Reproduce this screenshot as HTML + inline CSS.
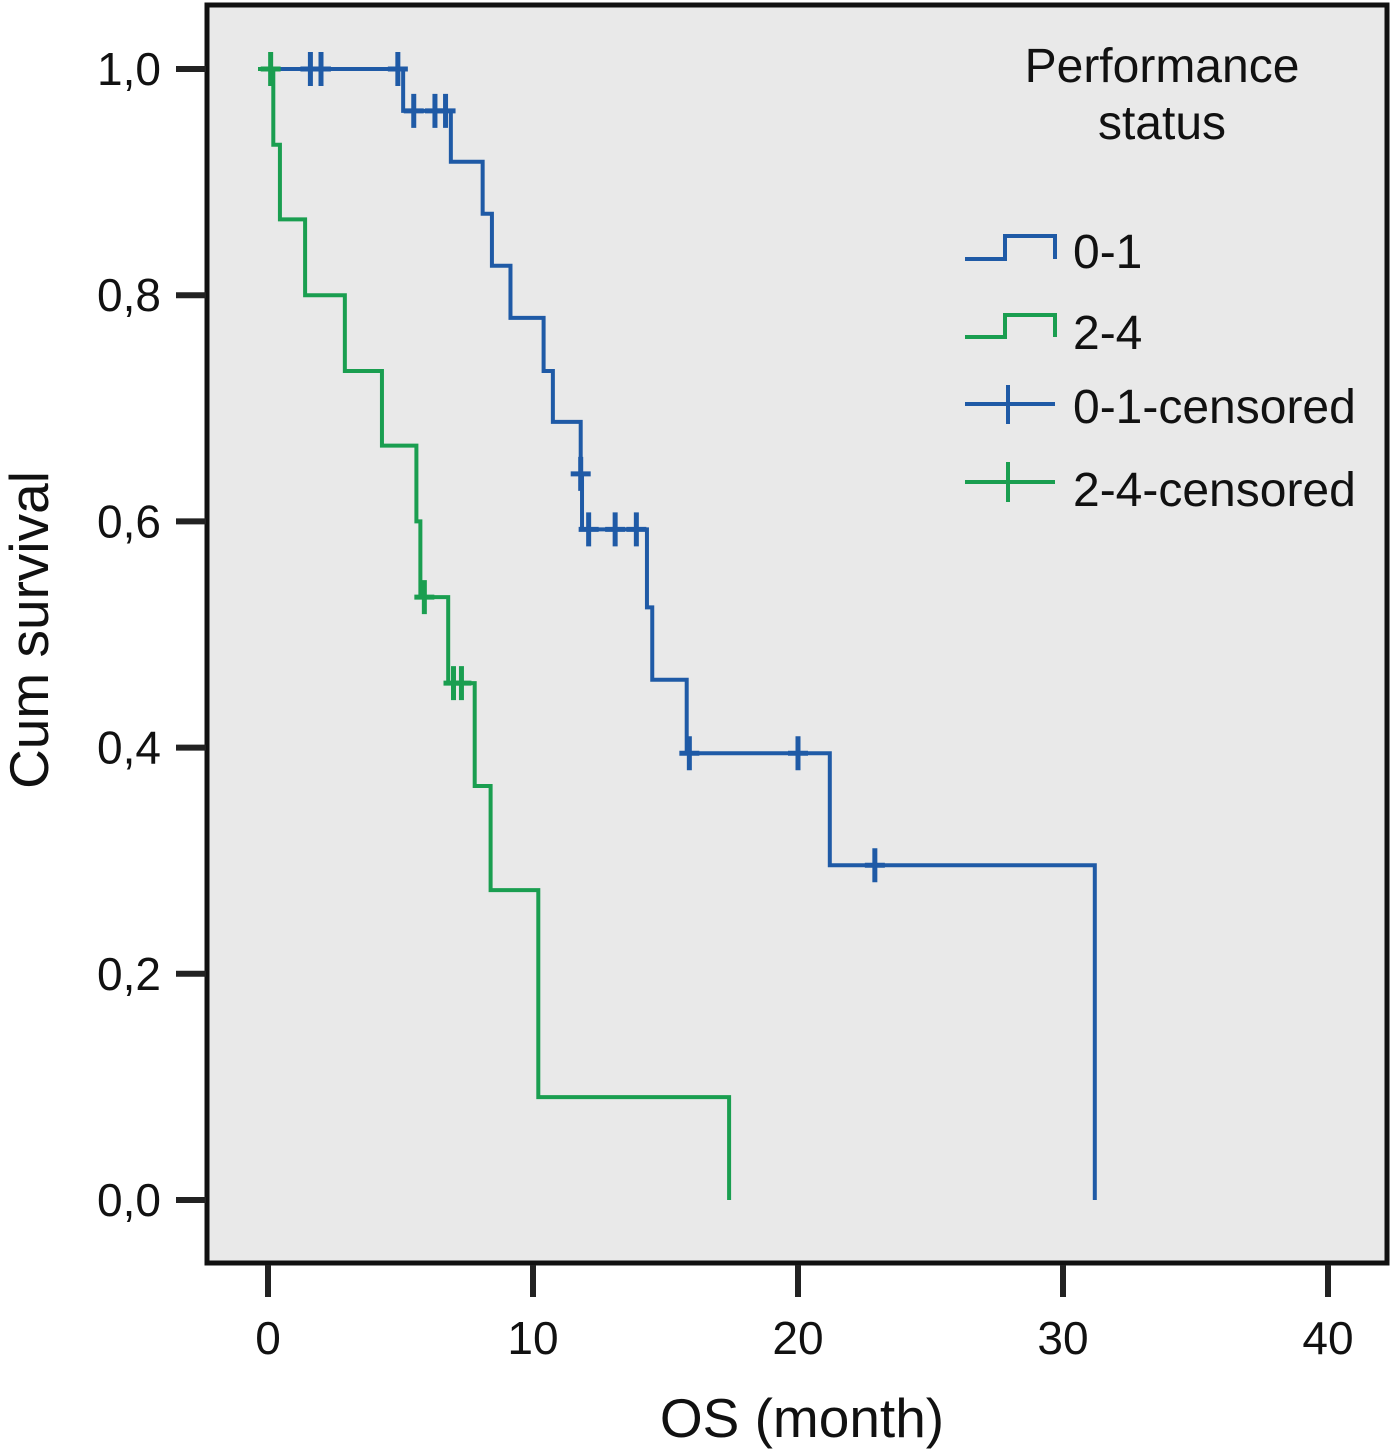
<!DOCTYPE html>
<html><head><meta charset="utf-8"><style>
html,body{margin:0;padding:0;background:#fff;}
svg{display:block;font-family:"Liberation Sans",Arial,sans-serif;}
</style></head><body>
<svg width="1394" height="1453" viewBox="0 0 1394 1453">
<rect x="207" y="5" width="1180" height="1258" fill="#e9e9e9" stroke="#111" stroke-width="5"/>
<g id="axes"></g>
<g id="curves"></g>
<text x="802" y="1437" font-size="55" text-anchor="middle" fill="#111">OS (month)</text>
<text transform="translate(48,630) rotate(-90)" font-size="55" text-anchor="middle" fill="#111">Cum survival</text>
<g>
<text x="1162" y="82" font-size="48" text-anchor="middle" fill="#111">Performance</text>
<text x="1162" y="139" font-size="48" text-anchor="middle" fill="#111">status</text>
<path d="M965 259H1005V236H1055V259" fill="none" stroke="#1f5aa6" stroke-width="4"/>
<text x="1073" y="268" font-size="48" fill="#111">0-1</text>
<path d="M965 337H1005V315H1055V337" fill="none" stroke="#1a9e50" stroke-width="4"/>
<text x="1073" y="349" font-size="48" fill="#111">2-4</text>
<path d="M965 404H1055M1008 385V424" stroke="#1f5aa6" stroke-width="4"/>
<text x="1073" y="423" font-size="48" fill="#111">0-1-censored</text>
<path d="M965 482H1055M1008 462V502" stroke="#1a9e50" stroke-width="4"/>
<text x="1073" y="506" font-size="48" fill="#111">2-4-censored</text>
</g>
</svg>
<script>
const xTicks=[0,10,20,30,40];
const yTicks=[0,0.2,0.4,0.6,0.8,1.0];
const yTickLabels=["0,0","0,2","0,4","0,6","0,8","1,0"];
const blueTimes=[5.1,6.9,8.1,8.45,9.15,10.4,10.75,11.8,11.85,14.3,14.5,15.8,21.2,31.2];
const blueSurv=[0.963,0.918,0.872,0.826,0.78,0.733,0.688,0.642,0.593,0.524,0.46,0.395,0.296,0];
const blueCensT=[1.6,2.0,4.9,5.5,6.3,6.7,11.8,12.1,13.1,13.9,15.9,20.0,22.9];
const greenTimes=[0.2,0.45,1.4,2.9,4.3,5.6,5.75,6.8,7.8,8.4,10.2,17.4];
const greenSurv=[0.933,0.867,0.8,0.733,0.667,0.6,0.533,0.457,0.366,0.274,0.091,0];
const greenCensT=[0.1,5.9,7.0,7.3];

const X=t=>268+t*26.5, Y=s=>1200-s*1131;
const NS="http://www.w3.org/2000/svg";
function mk(tag,attrs,parent){const e=document.createElementNS(NS,tag);for(const k in attrs)e.setAttribute(k,attrs[k]);parent.appendChild(e);return e;}
const axes=document.getElementById('axes'), curves=document.getElementById('curves');
yTicks.forEach((v,i)=>{
  const l=mk('line',{x1:176,x2:206,y1:Y(v),y2:Y(v),stroke:'#222','stroke-width':6},axes);
  
  
  const t=mk('text',{x:161,y:Y(v)+16,'font-size':46,'text-anchor':'end',fill:'#111'},axes);
  t.textContent=yTickLabels[i];
  
  
});
xTicks.forEach(v=>{
  const l=mk('line',{x1:X(v),x2:X(v),y1:1265,y2:1297,stroke:'#222','stroke-width':6},axes);
  
  
  const t=mk('text',{x:X(v),y:1354,'font-size':46,'text-anchor':'middle',fill:'#111'},axes);
  t.textContent=String(v);
  
  
});
function survAt(times,surv,t){let s=1;for(let i=0;i<times.length;i++){if(times[i]<=t)s=surv[i];}return s;}
function drawCurve(times,surv,cens,color,name){
  let d='M'+(X(0)-10)+' '+Y(1);
  times.forEach((t,i)=>{d+=' H'+X(t)+' V'+Y(surv[i]);});
  const p=mk('path',{d:d,fill:'none',stroke:color,'stroke-width':4},curves);
  
  
  cens.forEach(t=>{
    const y=Y(survAt(times,surv,t));
    const c=mk('path',{d:'M'+X(t)+' '+(y-17)+'V'+(y+17)+'M'+(X(t)-10)+' '+y+'H'+(X(t)+10),stroke:color,'stroke-width':5},curves);
    
    
  });
}
drawCurve(blueTimes,blueSurv,blueCensT,'#1f5aa6','ps-0-1');
drawCurve(greenTimes,greenSurv,greenCensT,'#1a9e50','ps-2-4');
</script>
</body></html>
